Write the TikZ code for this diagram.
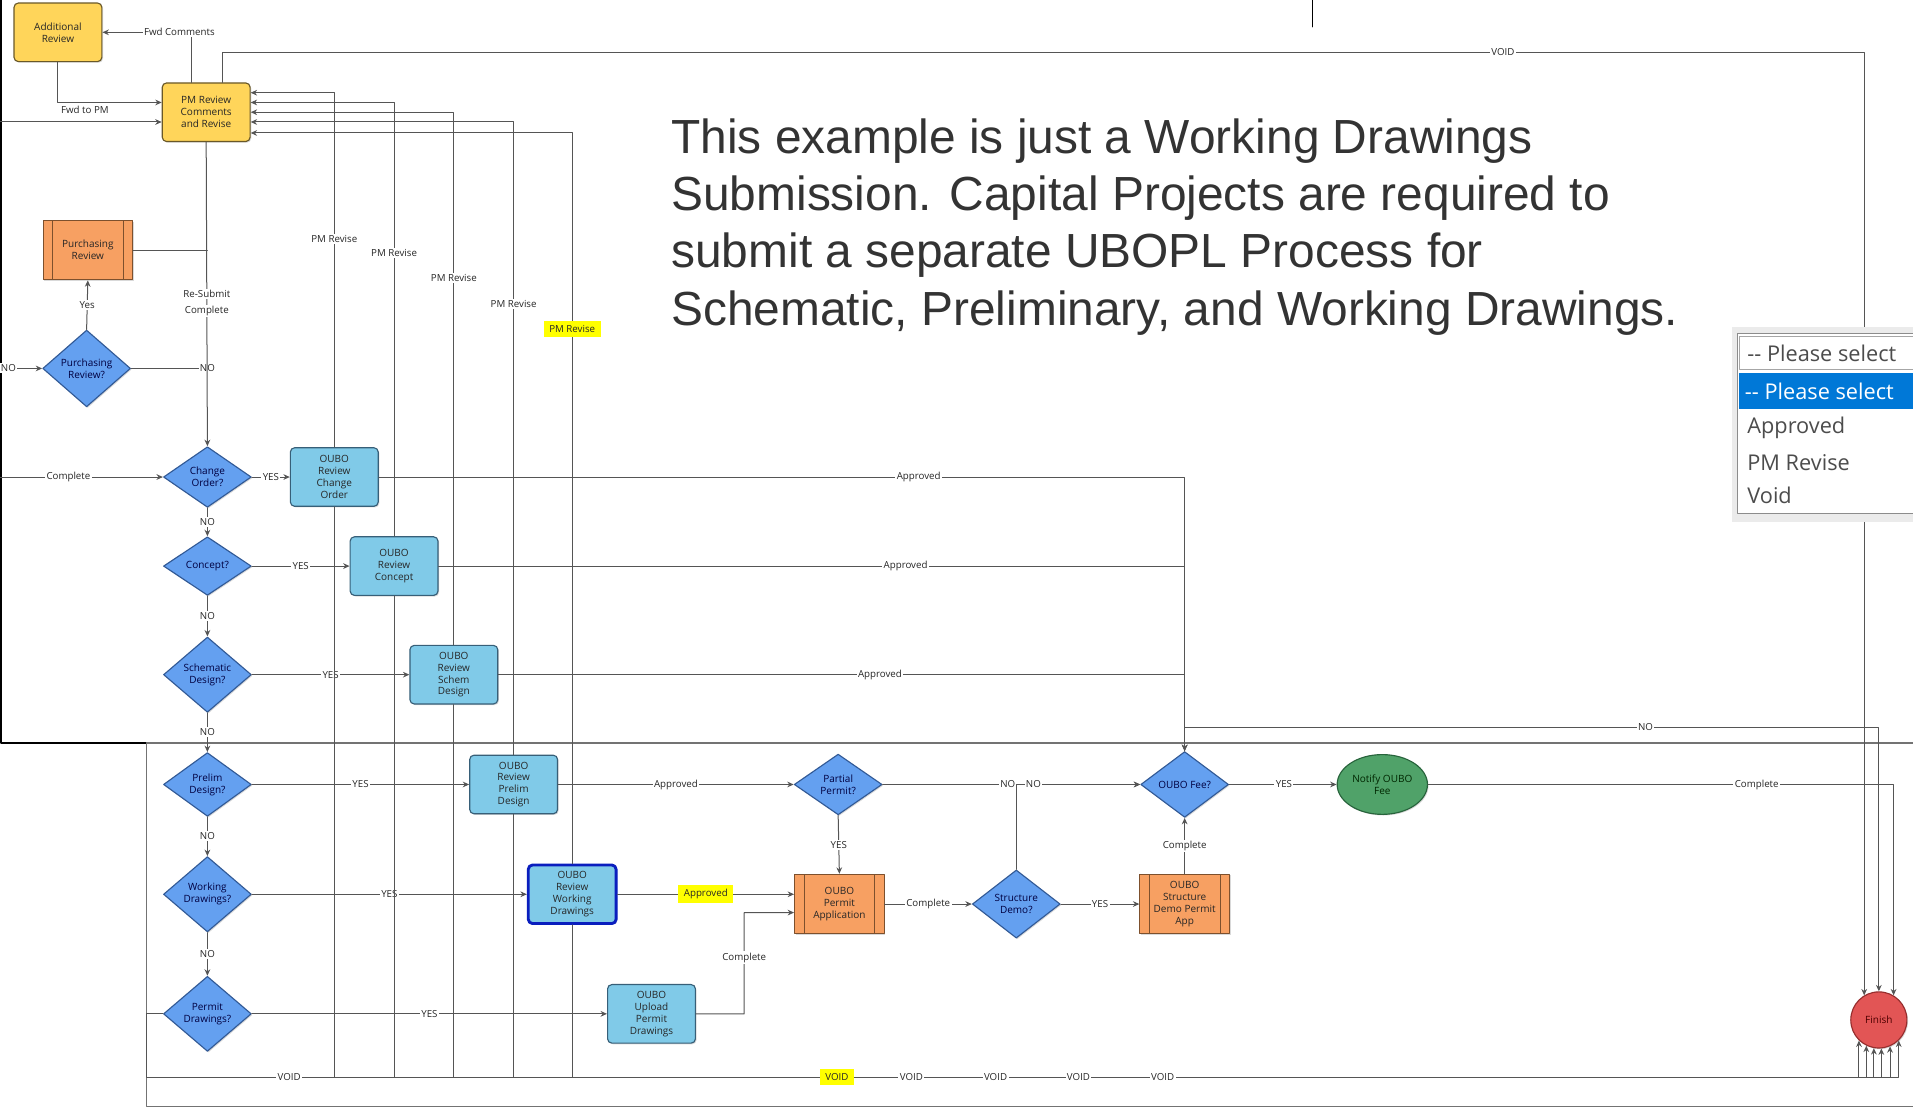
\documentclass[tikz,border=0pt]{standalone}
\usepackage{fontspec}
\setmainfont{Open Sans}
\newfontfamily\arialfont{Liberation Sans}
\usetikzlibrary{shapes.geometric,arrows.meta,shadows}
\definecolor{diafill}{RGB}{100,160,240}
\definecolor{diadraw}{RGB}{50,90,150}
\definecolor{revfill}{RGB}{128,202,232}
\definecolor{revdraw}{RGB}{55,95,120}
\definecolor{yelfill}{RGB}{255,213,90}
\definecolor{yeldraw}{RGB}{105,88,40}
\definecolor{orafill}{RGB}{247,160,98}
\definecolor{oradraw}{RGB}{125,80,45}
\definecolor{grnfill}{RGB}{80,162,105}
\definecolor{grndraw}{RGB}{40,100,60}
\definecolor{finfill}{RGB}{226,85,85}
\definecolor{findraw}{RGB}{150,45,45}
\definecolor{linegray}{RGB}{85,85,85}
\definecolor{selblue}{RGB}{0,120,215}
\definecolor{wdblue}{RGB}{10,30,190}
\definecolor{hilite}{RGB}{255,255,0}
\begin{document}
\begin{tikzpicture}[x=0.03cm, y=-0.03cm, line join=round, line cap=round,
  >={Stealth[length=4.5pt,width=4pt]}, font=\fontsize{7}{8.3}\selectfont,
  shape base/.style={draw, line width=0.8pt, align=center, inner sep=1pt, text=black!85,
    drop shadow={shadow xshift=0.8pt, shadow yshift=-0.8pt, opacity=0.3}},
  ask/.style={shape base, diamond, fill=diafill, draw=diadraw, text=blue!25!black,
    minimum width=2.16cm, minimum height=1.44cm},
  review/.style={shape base, rectangle, rounded corners=3pt, fill=revfill, draw=revdraw,
    minimum width=2.16cm, minimum height=1.44cm},
  pmbox/.style={review, fill=yelfill, draw=yeldraw},
  procbox/.style={shape base, rectangle, fill=orafill, draw=oradraw,
    minimum width=2.2cm, minimum height=1.46cm,
    path picture={\draw[oradraw, line width=0.6pt]
      ([xshift=0.23cm]path picture bounding box.north west) -- ([xshift=0.23cm]path picture bounding box.south west)
      ([xshift=-0.23cm]path picture bounding box.north east) -- ([xshift=-0.23cm]path picture bounding box.south east);}},
  notebox/.style={shape base, ellipse, fill=grnfill, draw=grndraw, text=green!15!black,
    minimum width=2.22cm, minimum height=1.47cm},
  endbox/.style={shape base, circle, fill=finfill, draw=findraw, text=red!30!black,
    minimum size=1.38cm, inner sep=0pt},
  flow/.style={draw=linegray, line width=0.7pt},
  lbl/.style={fill=white, inner sep=1pt, font=\fontsize{6.8}{7}\selectfont, text=black!85},
  hilbl/.style={lbl, fill=hilite, inner xsep=4pt, inner ysep=3pt},
  ddtext/.style={anchor=west, inner sep=0pt, font=\fontsize{15.2}{16}\selectfont, text=black!70}]
\useasboundingbox (0,0) rectangle (1568,909);

\draw[black, line width=1.2pt] (1,0) -- (1,609) -- (120,609);
\draw[black, line width=0.8pt] (1076,0) -- (1076,22);
\draw[black!55, line width=0.9pt] (1568,609) -- (120,609) -- (120,907) -- (1568,907);

\node[pmbox] (addrev) at (47.5,26.5) {Additional\\Review};
\node[pmbox] (pmrev) at (169,92) {PM Review\\Comments\\and Revise};
\node[procbox] (purch) at (72,205) {Purchasing\\Review};
\node[ask] (purchq) at (71,302) {Purchasing\\Review?};
\node[ask] (chg) at (170,391) {Change\\Order?};
\node[review] (ocr) at (274,391) {OUBO\\Review\\Change\\Order};
\node[ask] (conq) at (170,464) {Concept?};
\node[review] (ocon) at (323,464) {OUBO\\Review\\Concept};
\node[ask] (schq) at (170,553) {Schematic\\Design?};
\node[review] (osch) at (372,553) {OUBO\\Review\\Schem\\Design};
\node[ask] (prq) at (170,643) {Prelim\\Design?};
\node[review] (opr) at (421,643) {OUBO\\Review\\Prelim\\Design};
\node[ask] (wdq) at (170,733) {Working\\Drawings?};
\node[review, draw=wdblue, line width=2pt] (owd) at (469,733) {OUBO\\Review\\Working\\Drawings};
\node[ask] (pdq) at (170,831) {Permit\\Drawings?};
\node[review] (oup) at (534,831) {OUBO\\Upload\\Permit\\Drawings};
\node[ask] (ppq) at (687,643) {Partial\\Permit?};
\node[procbox] (opa) at (688,741) {OUBO\\Permit\\Application};
\node[ask] (sdq) at (833,741) {Structure\\Demo?};
\node[procbox] (osd) at (971,741) {OUBO\\Structure\\Demo Permit\\App};
\node[ask] (feeq) at (971,643) {OUBO Fee?};
\node[notebox] (notify) at (1133,643) {Notify OUBO\\Fee};
\node[endbox] (fin) at (1540,836) {Finish};

\coordinate (inpm) at (0,100);
\coordinate (noin) at (0,302);
\coordinate (cin) at (0,391);
\coordinate (vtop) at (1528,43);
\coordinate (bus) at (0,883);
\coordinate (lft) at (120,883);
\coordinate (cc) at (610,748);
\coordinate (noc) at (1540,596);

\draw[flow,->] (addrev.south) |- node[lbl, pos=0.63, below=1pt, fill=none]{Fwd to PM} ([yshift=0.24cm]pmrev.west);
\draw[flow,->] (inpm) -- (inpm -| pmrev.west);
\draw[flow,->] ([xshift=-0.36cm]pmrev.north) |- node[lbl, pos=0.5, xshift=-0.3cm]{Fwd Comments} (addrev.east);
\draw[flow,->] ([xshift=0.39cm]pmrev.north) |- node[lbl, pos=0.89]{VOID} (vtop) -- (vtop |- fin.121);

\foreach \b/\dy/\p in {ocr/0.48/0.294, ocon/0.24/0.326, osch/0/0.344, opr/-0.24/0.356}
  \draw[flow,->] (\b.north) |- node[lbl, pos=\p]{PM Revise} ([yshift=\dy cm]pmrev.east);
\draw[flow,->] (owd.north) |- node[hilbl, pos=0.366]{PM Revise} ([yshift=-0.51cm]pmrev.east);

\draw[flow] (purch.east) -- (purch.east -| chg.north);
\draw[flow] (purchq.east) -- (purchq.east -| chg.north) node[lbl]{NO};
\draw[flow,->] (pmrev.south) -- node[lbl, pos=0.5]{Re-Submit} node[lbl, pos=0.555]{Complete} (chg.north);
\draw[flow,->] (purchq.north) -- node[lbl]{Yes} (purch.south);
\draw[flow,->] (noin) -- node[lbl, pos=0.2]{NO} (purchq.west);
\draw[flow,->] (cin) -- node[lbl, pos=0.42]{Complete} (chg.west);

\draw[flow,->] (chg.east) -- node[lbl]{YES} (ocr.west);
\draw[flow,->] (chg.south) -- node[lbl]{NO} (conq.north);
\draw[flow,->] (conq.east) -- node[lbl]{YES} (ocon.west);
\draw[flow,->] (conq.south) -- node[lbl]{NO} (schq.north);
\draw[flow,->] (schq.east) -- node[lbl]{YES} (osch.west);
\draw[flow,->] (schq.south) -- node[lbl]{NO} (prq.north);
\draw[flow,->] (prq.east) -- node[lbl]{YES} (opr.west);
\draw[flow,->] (prq.south) -- node[lbl]{NO} (wdq.north);
\draw[flow,->] (wdq.east) -- node[lbl]{YES} (owd.west);
\draw[flow,->] (wdq.south) -- node[lbl]{NO} (pdq.north);
\draw[flow,->] (pdq.east) -- node[lbl]{YES} (oup.west);

\draw[flow,->] (ocr.east) -| node[lbl, pos=0.335]{Approved} (feeq.north);
\draw[flow,->] (ocon.east) -| node[lbl, pos=0.313]{Approved} (feeq.north);
\draw[flow,->] (osch.east) -| node[lbl, pos=0.278]{Approved} (feeq.north);
\draw[flow,->] (opr.east) -- node[lbl]{Approved} (ppq.west);
\draw[flow,->] (owd.east) -- node[hilbl]{Approved} (owd.east -| opa.west);
\draw[flow,->] (oup.east) -| node[lbl, pos=0.777]{Complete} (cc) -- ([yshift=-0.21cm]opa.west);
\draw[flow,->] (ppq.south) -- node[lbl]{YES} (opa.north);
\draw[flow,->] (ppq.east) -- node[lbl, pos=0.486]{NO} (feeq.west);
\draw[flow,->] (sdq.north) |- node[lbl, pos=0.569]{NO} (feeq.west);
\draw[flow,->] (opa.east) -- node[lbl]{Complete} (sdq.west);
\draw[flow,->] (sdq.east) -- node[lbl]{YES} (osd.west);
\draw[flow,->] (osd.north) -- node[lbl]{Complete} (feeq.south);
\draw[flow,->] (feeq.east) -- node[lbl, pos=0.51]{YES} (notify.west);
\draw[flow,->] (feeq.north) |- node[lbl, pos=0.832]{NO} (noc) -- (fin.north);
\draw[flow,->] (notify.east) -| node[lbl, pos=0.353]{Complete} (fin.59);

\foreach \b/\a in {ocr/226, ocon/244, osch/260, opr/275, owd/293}
  \draw[flow,->] (\b.south) -- (\b.south |- bus) -| (fin.\a);
\draw[flow,->] (pdq.west) -| (lft) -| (fin.314);
\foreach \x [count=\i] in {237,747,816,884,953}
  \node[lbl] (void\i) at (\x,883) {VOID};
\node[hilbl] (voidhl) at (686,883) {VOID};

\node[anchor=north west, align=left, inner sep=0pt, text=black!80,
  font=\arialfont\fontsize{33.5}{40.1}\selectfont] (note) at (550,97)
  {This example is just a Working Drawings\\Submission. Capital Projects are required to\\submit a separate UBOPL Process for\\Schematic, Preliminary, and Working Drawings.};

\fill[black!8] (1420,268) rectangle (1570,428);
\draw[black!45, fill=white] (1424,273) rectangle (1575,421);
\draw[black!35] (1426,276) rectangle (1575,303);
\fill[selblue] (1425,306) rectangle (1575,335);
\node[ddtext] (sel0) at (1432,290) {{-}{-} Please select};
\node[ddtext, text=white] (sel1) at (1430,321) {{-}{-} Please select};
\node[ddtext] (optappr) at (1432,351) {Approved};
\node[ddtext] (optpm) at (1432,379) {PM Revise};
\node[ddtext] (optvoid) at (1432,406) {Void};
\end{tikzpicture}
\end{document}
